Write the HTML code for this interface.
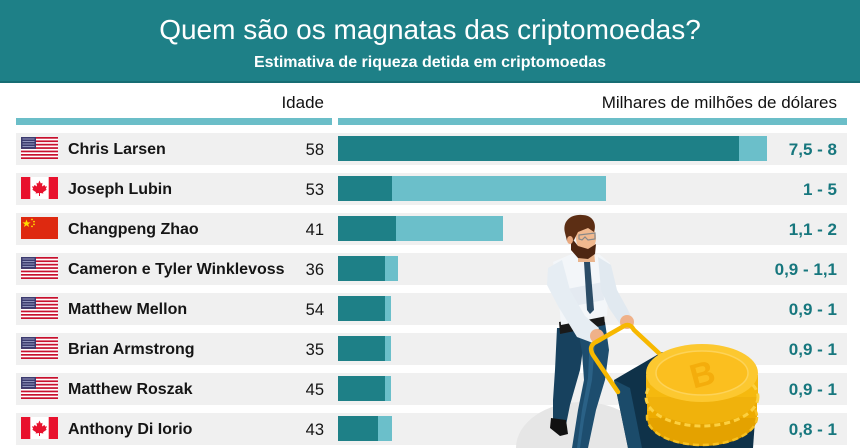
<!DOCTYPE html>
<html style="width:860px;height:448px;overflow:hidden"><head><meta charset="utf-8"><style>
*{margin:0;padding:0;box-sizing:border-box}
body{width:860px;height:448px;overflow:hidden;background:#fff;font-family:"Liberation Sans",Arial,sans-serif;position:relative}
.abs{position:absolute}
.hdr{left:0;top:0;width:860px;height:83px;background:#1e8087;border-bottom:2px solid #176d73}
.title{left:0;top:16px;width:860px;text-align:center;color:#fff;font-size:28px;line-height:28px}
.sub{left:0;top:55px;width:860px;text-align:center;color:#fff;font-size:16px;line-height:16px;font-weight:bold}
.colh{font-size:17px;line-height:17px;color:#111;top:94px}
.sep{top:118px;height:7px;background:#6bbec8}
.row{left:16px;width:831px;height:32px;background:#f0f0f0}
.name{left:68px;font-size:16px;font-weight:bold;color:#151515;line-height:30px;height:30px;white-space:nowrap}
.age{width:60px;left:264px;text-align:right;font-size:16.5px;color:#151515;line-height:30px;height:30px}
.val{width:120px;left:717px;text-align:right;font-size:17px;font-weight:bold;color:#17777e;line-height:30px;height:30px}
.bl{left:338px;height:25px;background:#6bbfca}
.bd{left:338px;height:25px;background:#1e8087}
.flag{left:21px;width:37px;height:22px}
</style></head><body>
<div class="abs hdr"></div>
<div class="abs title">Quem são os magnatas das criptomoedas?</div>
<div class="abs sub">Estimativa de riqueza detida em criptomoedas</div>
<div class="abs colh" style="left:224px;width:100px;text-align:right">Idade</div>
<div class="abs colh" style="left:537px;width:300px;text-align:right">Milhares de milhões de dólares</div>
<div class="abs sep" style="left:16px;width:316px"></div>
<div class="abs sep" style="left:338px;width:509px"></div>

<svg width="0" height="0" style="position:absolute;left:0;top:0">
<defs>
<g id="us">
<rect width="37" height="22" fill="#fff"/>
<g fill="#c8102e">
<rect y="0" width="37" height="1.7"/><rect y="3.4" width="37" height="1.7"/><rect y="6.8" width="37" height="1.7"/><rect y="10.2" width="37" height="1.7"/><rect y="13.6" width="37" height="1.7"/><rect y="17" width="37" height="1.7"/><rect y="20.3" width="37" height="1.7"/>
</g>
<rect width="15" height="11.9" fill="#3c3b6e"/>
<g fill="#b8bce0" opacity=".7"><rect x="1.5" y="1.5" width="12" height="1"/><rect x="1.5" y="4" width="12" height="1"/><rect x="1.5" y="6.5" width="12" height="1"/><rect x="1.5" y="9" width="12" height="1"/></g>
</g>
<g id="ca">
<rect width="37" height="22" fill="#fff"/>
<rect width="9.3" height="22" fill="#e8112d"/><rect x="27.7" width="9.3" height="22" fill="#e8112d"/>
<path d="M18.5 3.5 L19.8 6.5 L21.5 5.8 L21 9.5 L23.5 8 L24.2 9.6 L26 9.3 L24.8 12 L25.8 12.6 L22 15.2 L22.4 16.5 L19 16 L19 19 L18 19 L18 16 L14.6 16.5 L15 15.2 L11.2 12.6 L12.2 12 L11 9.3 L12.8 9.6 L13.5 8 L16 9.5 L15.5 5.8 L17.2 6.5 Z" fill="#e8112d"/>
</g>
<g id="cn">
<rect width="37" height="22" fill="#de2910"/>
<polygon points="5.5,2.5 6.6,5.4 9.6,5.4 7.2,7.2 8.1,10 5.5,8.3 2.9,10 3.8,7.2 1.4,5.4 4.4,5.4" fill="#ffde00"/>
<circle cx="11" cy="2.5" r=".9" fill="#ffde00"/><circle cx="13" cy="4.6" r=".9" fill="#ffde00"/><circle cx="13" cy="7.4" r=".9" fill="#ffde00"/><circle cx="11" cy="9.4" r=".9" fill="#ffde00"/>
</g>
</defs>
</svg>

<!-- Row 1 -->
<div class="abs row" style="top:133px"></div>
<svg class="abs flag" style="top:137px" viewBox="0 0 37 22"><use href="#us"/></svg>
<div class="abs name" style="top:135px">Chris Larsen</div>
<div class="abs age" style="top:135px">58</div>
<div class="abs bl" style="top:136px;width:429px"></div>
<div class="abs bd" style="top:136px;width:401px"></div>
<div class="abs val" style="top:135px">7,5 - 8</div>

<!-- Row 2 -->
<div class="abs row" style="top:173px"></div>
<svg class="abs flag" style="top:177px" viewBox="0 0 37 22"><use href="#ca"/></svg>
<div class="abs name" style="top:175px">Joseph Lubin</div>
<div class="abs age" style="top:175px">53</div>
<div class="abs bl" style="top:176px;width:268px"></div>
<div class="abs bd" style="top:176px;width:54px"></div>
<div class="abs val" style="top:175px">1 - 5</div>

<!-- Row 3 -->
<div class="abs row" style="top:213px"></div>
<svg class="abs flag" style="top:217px" viewBox="0 0 37 22"><use href="#cn"/></svg>
<div class="abs name" style="top:215px">Changpeng Zhao</div>
<div class="abs age" style="top:215px">41</div>
<div class="abs bl" style="top:216px;width:165px"></div>
<div class="abs bd" style="top:216px;width:58px"></div>
<div class="abs val" style="top:215px">1,1 - 2</div>

<!-- Row 4 -->
<div class="abs row" style="top:253px"></div>
<svg class="abs flag" style="top:257px" viewBox="0 0 37 22"><use href="#us"/></svg>
<div class="abs name" style="top:255px">Cameron e Tyler Winklevoss</div>
<div class="abs age" style="top:255px">36</div>
<div class="abs bl" style="top:256px;width:60px"></div>
<div class="abs bd" style="top:256px;width:47px"></div>
<div class="abs val" style="top:255px">0,9 - 1,1</div>

<!-- Row 5 -->
<div class="abs row" style="top:293px"></div>
<svg class="abs flag" style="top:297px" viewBox="0 0 37 22"><use href="#us"/></svg>
<div class="abs name" style="top:295px">Matthew Mellon</div>
<div class="abs age" style="top:295px">54</div>
<div class="abs bl" style="top:296px;width:53px"></div>
<div class="abs bd" style="top:296px;width:47px"></div>
<div class="abs val" style="top:295px">0,9 - 1</div>

<!-- Row 6 -->
<div class="abs row" style="top:333px"></div>
<svg class="abs flag" style="top:337px" viewBox="0 0 37 22"><use href="#us"/></svg>
<div class="abs name" style="top:335px">Brian Armstrong</div>
<div class="abs age" style="top:335px">35</div>
<div class="abs bl" style="top:336px;width:53px"></div>
<div class="abs bd" style="top:336px;width:47px"></div>
<div class="abs val" style="top:335px">0,9 - 1</div>

<!-- Row 7 -->
<div class="abs row" style="top:373px"></div>
<svg class="abs flag" style="top:377px" viewBox="0 0 37 22"><use href="#us"/></svg>
<div class="abs name" style="top:375px">Matthew Roszak</div>
<div class="abs age" style="top:375px">45</div>
<div class="abs bl" style="top:376px;width:53px"></div>
<div class="abs bd" style="top:376px;width:47px"></div>
<div class="abs val" style="top:375px">0,9 - 1</div>

<!-- Row 8 -->
<div class="abs row" style="top:413px"></div>
<svg class="abs flag" style="top:417px" viewBox="0 0 37 22"><use href="#ca"/></svg>
<div class="abs name" style="top:415px">Anthony Di Iorio</div>
<div class="abs age" style="top:415px">43</div>
<div class="abs bl" style="top:416px;width:54px"></div>
<div class="abs bd" style="top:416px;width:40px"></div>
<div class="abs val" style="top:415px">0,8 - 1</div>

<!-- Illustration -->
<svg class="abs" style="left:0;top:0" width="860" height="448" viewBox="0 0 860 448">
<path d="M516 448 A66 46 0 0 1 648 448 Z" fill="#e6e6e6"/>
<!-- back leg -->
<path d="M557 328 L586 328 L580 370 L570 405 L566 425 L553 424 L553 400 L555 370 Z" fill="#17415e"/>
<path d="M551 418 L566 420 L568 434 L560 436 L550 428 Z" fill="#111"/>
<!-- front leg -->
<path d="M578 330 L605 322 L609 350 L605 380 L596 410 L588 448 L572 448 L578 410 L584 380 L582 352 Z" fill="#1d4d6e"/>
<path d="M590 335 L596 333 L592 380 L584 420 L580 448 L577 448 L582 410 L588 378 Z" fill="#2a6186"/>
<!-- belt -->
<path d="M559 322 L604 314 L605 325 L560 334 Z" fill="#1a1a1a"/>
<!-- torso -->
<path d="M553 262 L574 253 L586 257 L599 254 L610 263 L607 316 L561 325 L558 290 Z" fill="#f3f6f9"/>
<path d="M562 290 L603 282 L604 300 L564 308 Z" fill="#dde6ee" opacity=".7"/>
<!-- left arm -->
<path d="M548 268 L562 260 L570 290 L585 316 L599 328 L593 343 L577 337 L558 306 L547 285 Z" fill="#e6edf3"/>
<!-- right arm -->
<path d="M598 257 L611 265 L617 290 L628 310 L632 318 L622 327 L609 308 L601 290 Z" fill="#e1e9f0"/>
<!-- tie -->
<path d="M584 262 L590 262 L594 310 L590 314 L587 310 Z" fill="#2b4c66"/>
<!-- collar/neck -->
<path d="M578 250 L594 250 L595 262 L578 262 Z" fill="#e9b48c"/>
<!-- head -->
<ellipse cx="586" cy="238" rx="10" ry="14" fill="#f1b98f"/>
<path d="M571 237 L578 246 L588 249 L596 244 L595 254 L588 259 L578 258 L571 250 Z" fill="#4d2612"/>
<path d="M565 233 C562 221 571 214 582 215 C593 215 597 224 594 232 L588 228 L578 232 L574 240 L567 241 Z" fill="#5c2e14"/>
<ellipse cx="570" cy="240" rx="3" ry="4" fill="#e9a97f"/>
<path d="M579 235 L595 233 L595 239 L588 240 L585 237 L582 240 L579 239 Z" fill="none" stroke="#888" stroke-width="1.2"/>
<!-- hands -->
<circle cx="597" cy="336" r="7" fill="#efb189"/>
<circle cx="627" cy="322" r="7" fill="#efb189"/>
<!-- wheelbarrow -->
<path d="M614 380 L662 352 L755 420 L753 448 L628 448 Z" fill="#0f3249"/>
<path d="M614 380 L630 388 L642 448 L628 448 Z" fill="#1b4b6a"/>
<path d="M662 352 L755 420 L752 425 L660 358 Z" fill="#1d5272"/>
<!-- handle -->
<path d="M618 392 L593 355 Q588 346 596 342 L624 326 Q630 323 634 330 L662 356" fill="none" stroke="#f7b800" stroke-width="4.5" stroke-linecap="round" stroke-linejoin="round"/>
<!-- coins -->
<ellipse cx="702" cy="418" rx="55" ry="28" fill="#e4a200"/>
<rect x="647" y="392" width="110" height="26" fill="#eeab00"/>
<ellipse cx="702" cy="417" rx="55" ry="28" fill="none" stroke="#f7c020" stroke-width="2.5" stroke-dasharray="6 4"/>
<ellipse cx="702" cy="395" rx="56" ry="29" fill="#f0b20c"/>
<rect x="646" y="375" width="112" height="22" fill="#f5b90f"/>
<ellipse cx="702" cy="397" rx="56" ry="29" fill="none" stroke="#fcd040" stroke-width="3" stroke-dasharray="6 4"/>
<ellipse cx="702" cy="373" rx="56" ry="29" fill="#fcc830"/>
<ellipse cx="702" cy="373" rx="46" ry="22" fill="#fbbf1f" stroke="#fdd358" stroke-width="1.5"/>
<text x="702" y="386" text-anchor="middle" font-family="Liberation Sans, sans-serif" font-weight="bold" font-size="34" fill="#f4ad0c" transform="rotate(-15 702 373)">B</text>
</svg>
</body></html>
